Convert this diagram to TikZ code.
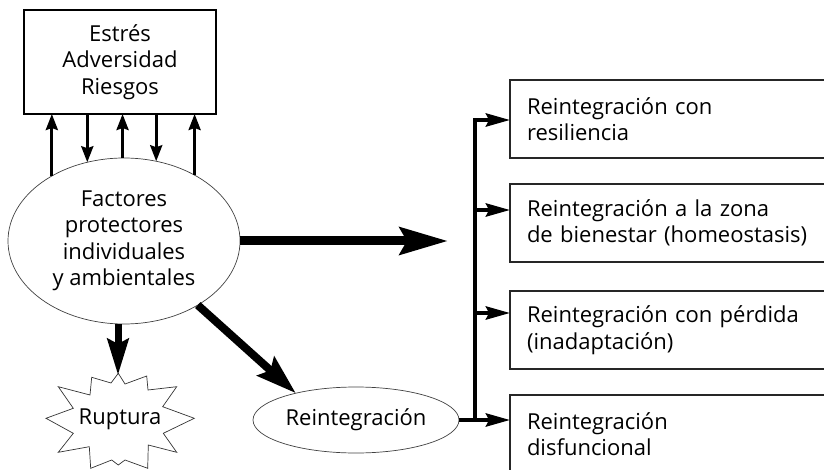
\documentclass[tikz,border=0pt]{standalone}
\usepackage{fontspec}
\setmainfont{Open Sans}
\usetikzlibrary{shapes.geometric,arrows.meta}
\begin{document}
\begin{tikzpicture}[x=1pt,y=-1pt,
  font=\fontsize{22}{26.5}\selectfont,
  box/.style={draw=black,line width=1.2pt,rectangle,minimum width=192pt,minimum height=104pt,align=center,inner sep=0pt,outer sep=0pt},
  ell/.style={draw=black!75,line width=0.7pt,ellipse,align=center,inner sep=0pt,outer sep=0pt},
  rbox/.style={draw=black!85,line width=1.3pt,rectangle,anchor=west,minimum height=78pt,text width=300pt,inner xsep=17pt,inner ysep=0pt,align=left,outer sep=0pt},
  sarr/.style={line width=3pt,-{Stealth[length=16pt,width=12pt,inset=2pt]}},
  harr/.style={line width=9pt,-{Stealth[length=48pt,width=27pt,inset=7pt]}},
  darr/.style={line width=7pt,-{Stealth[length=36pt,width=21pt,inset=5pt]}},
  diarr/.style={line width=8pt,-{Stealth[length=40pt,width=25pt,inset=6pt]}},
  brarr/.style={line width=4pt,-{Stealth[length=24pt,width=13pt,inset=3pt]}},
  starline/.style={draw=black!80,line width=0.7pt,line join=miter}
]
\useasboundingbox (0,0) rectangle (824,470);
\clip (0,0) rectangle (824,470);

% nodes
\node[box] (top) at (120,62) {Estrés\\Adversidad\\Riesgos};
\node[ell,minimum width=232pt,minimum height=166pt] (fac) at (124,241) {Factores\\protectores\\individuales\\y ambientales};
\node[ell,minimum width=206pt,minimum height=66pt] (rei) at (356,420) {Reintegración};
\node (rup) at (120,419) {Ruptura};

\node[rbox] (b1) at (510,119) {Reintegración con\\resiliencia};
\node[rbox] (b2) at (510,223) {Reintegración a la zona\\de bienestar (homeostasis)};
\node[rbox] (b3) at (510,330) {Reintegración con pérdida\\(inadaptación)};
\node[rbox] (b4) at (510,434) {Reintegración\\disfuncional};

% starburst around Ruptura
\draw[starline] (91.7,377.3) -- (111,383) -- (118.3,373.3) -- (125,384) -- (146.7,376)
  -- (148,390) -- (176.7,386.7) -- (162.7,406.7) -- (194.3,418.3) -- (163.3,433.3)
  -- (176.7,452.3) -- (148.3,445) -- (147.7,468.3) -- (125,460) -- (118.3,465)
  -- (111.7,460) -- (90.7,468.3) -- (89.3,446.7) -- (58.3,452.3) -- (73.3,433.3)
  -- (46,418.3) -- (73.3,408.3) -- (58.3,386.7) -- (90,395) -- cycle;

% arrows between stress box and factors
\foreach \a in {138,91,43} \draw[sarr] (fac.\a) -- (fac.\a |- top.south);
\foreach \a in {115,68} \draw[sarr] (fac.\a |- top.south) -- (fac.\a);

% big arrows
\coordinate (hend) at (448,241);
\coordinate (ruptop) at (118,375);
\draw[harr] (fac.east) -- (hend);
\draw[darr] (fac.south -| ruptop) -- (ruptop);
\draw[diarr] (fac.-41) -- (rei.156);

% branching bar
\coordinate (a1) at (475,120);
\coordinate (a2) at (475,210);
\coordinate (a3) at (475,313);
\draw[brarr] (rei.east -| a1) -- (a1) -- (a1 -| b1.west);
\draw[brarr] (a2) -- (a2 -| b2.west);
\draw[brarr] (a3) -- (a3 -| b3.west);
\draw[brarr] (rei.east) -- (rei.east -| b4.west);
\end{tikzpicture}
\end{document}
